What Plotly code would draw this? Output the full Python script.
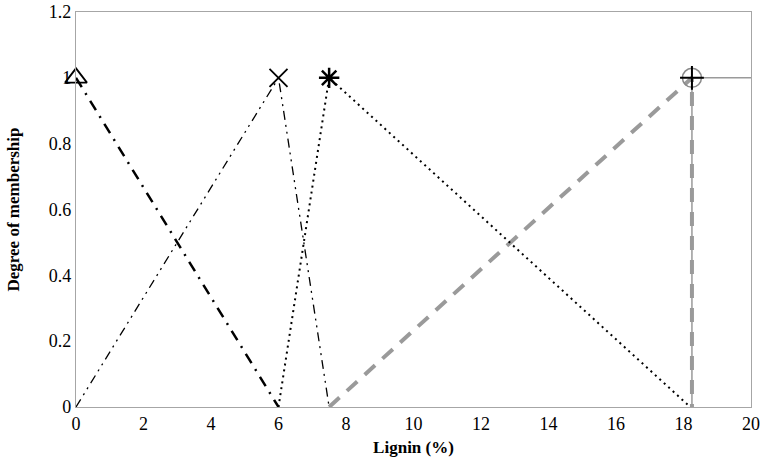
import plotly.graph_objects as go

# Membership functions for Lignin (%)
low_x = [0, 6]
low_y = [1, 0]
mid_x = [0, 6, 7.5]
mid_y = [0, 1, 0]
high_x = [6, 7.5, 18.2]
high_y = [0, 1, 0]
vhigh_x = [7.5, 18.25, 18.25]
vhigh_y = [0, 1, 0]
cap_x = [18.25, 18.25, 20]
cap_y = [0, 1, 1]

peak_low = ([0], [1])
peak_mid = ([6], [1])
peak_high = ([7.5], [1])
peak_vhigh = ([18.25], [1])

x_ticks = [0, 2, 4, 6, 8, 10, 12, 14, 16, 18, 20]
y_ticks = [0, 0.2, 0.4, 0.6, 0.8, 1, 1.2]
y_labels = ["0", "0.2", "0.4", "0.6", "0.8", "1", "1.2"]

SERIF = "Liberation Serif"

fig = go.Figure()

fig.add_trace(go.Scatter(x=cap_x, y=cap_y, mode="lines", cliponaxis=False,
                         line=dict(color="#9a9a9a", width=1.5), showlegend=False))
fig.add_trace(go.Scatter(x=vhigh_x, y=vhigh_y, mode="lines", cliponaxis=False,
                         line=dict(color="#9a9a9a", width=4, dash="14px,10px"), showlegend=False))
fig.add_trace(go.Scatter(x=low_x, y=low_y, mode="lines", cliponaxis=False,
                         line=dict(color="black", width=2.5, dash="11px,7px,2px,7px"), showlegend=False))
fig.add_trace(go.Scatter(x=mid_x, y=mid_y, mode="lines", cliponaxis=False,
                         line=dict(color="black", width=1.3, dash="9px,5px,2px,5px,2px,5px"), showlegend=False))
fig.add_trace(go.Scatter(x=high_x, y=high_y, mode="lines", cliponaxis=False,
                         line=dict(color="black", width=2, dash="2px,4px"), showlegend=False))

fig.add_trace(go.Scatter(x=peak_low[0], y=peak_low[1], mode="markers", cliponaxis=False,
                         marker=dict(symbol="triangle-up-open", size=19, color="black",
                                     line=dict(width=1.8, color="black")), showlegend=False))
fig.add_trace(go.Scatter(x=peak_mid[0], y=peak_mid[1], mode="markers", cliponaxis=False,
                         marker=dict(symbol="x-thin-open", size=18, color="black",
                                     line=dict(width=1.8, color="black")), showlegend=False))
fig.add_trace(go.Scatter(x=peak_high[0], y=peak_high[1], mode="markers", cliponaxis=False,
                         marker=dict(symbol="asterisk-open", size=17, color="black",
                                     line=dict(width=2.5, color="black")), showlegend=False))
fig.add_trace(go.Scatter(x=peak_vhigh[0], y=peak_vhigh[1], mode="markers", cliponaxis=False,
                         marker=dict(symbol="circle-open", size=19, color="#8a8a8a",
                                     line=dict(width=1.5, color="#8a8a8a")), showlegend=False))
fig.add_trace(go.Scatter(x=peak_vhigh[0], y=peak_vhigh[1], mode="markers", cliponaxis=False,
                         marker=dict(symbol="cross-thin-open", size=17, color="black",
                                     line=dict(width=2, color="black")), showlegend=False))

axis_common = dict(showgrid=False, zeroline=False, showline=True, linecolor="#a6a6a6",
                   linewidth=1.2, mirror=True, ticks="", automargin=False,
                   tickfont=dict(family=SERIF, size=18, color="black"))

fig.update_xaxes(range=[0, 20], tickvals=x_ticks, ticktext=[str(v) for v in x_ticks],
                 title=dict(text="<b>Lignin (%)</b>", font=dict(family=SERIF, size=17, color="black"),
                            standoff=8),
                 **axis_common)
fig.update_yaxes(range=[0, 1.2], tickvals=y_ticks, ticktext=y_labels,
                 title=dict(text="<b>Degree of membership</b>", font=dict(family=SERIF, size=17, color="black"),
                            standoff=24),
                 **axis_common)

fig.update_layout(width=761, height=464, margin=dict(l=76, r=10, t=12, b=57, autoexpand=False),
                  font=dict(family=SERIF, size=18, color="black"),
                  paper_bgcolor="white", plot_bgcolor="white")

fig.write_html("out.html")
